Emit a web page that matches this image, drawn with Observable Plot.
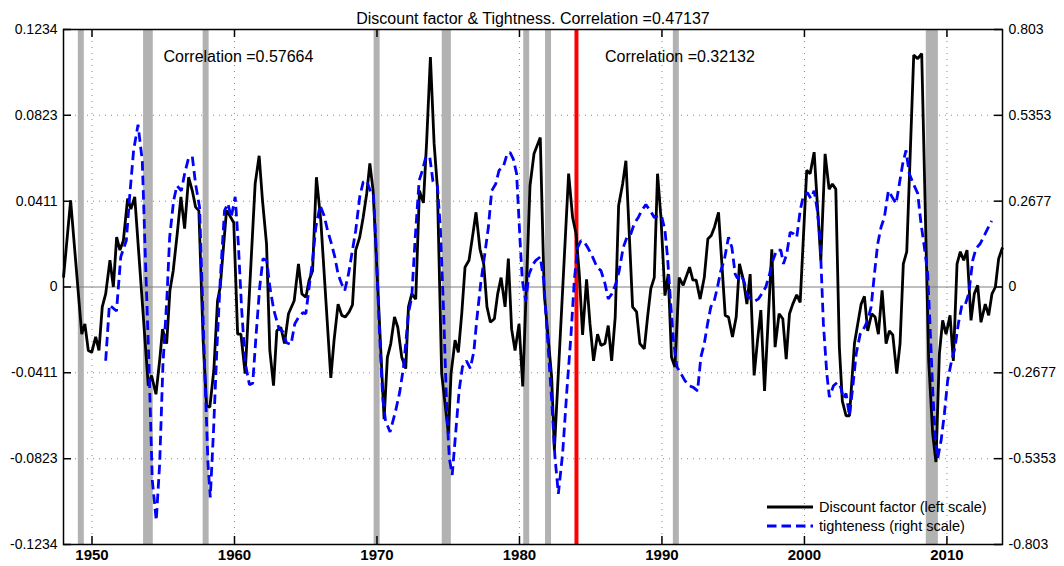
<!DOCTYPE html>
<html>
<head>
<meta charset="utf-8">
<script src="https://cdn.jsdelivr.net/npm/d3@7"></script>
<script src="https://cdn.jsdelivr.net/npm/@observablehq/plot@0.6"></script>
<style>
  body { margin: 0; background: #fff; }
  #chart { position: relative; width: 1064px; height: 566px; font-family: "Liberation Sans", Arial, Helvetica, sans-serif; }
  #legend { position: absolute; left: 766px; top: 497.5px; font-size: 14.5px; color: #000; }
  #legend .row { display: flex; align-items: center; height: 18.7px; white-space: nowrap; }
  #legend svg { margin-right: 5px; }
</style>
</head>
<body>
<div id="chart"></div>
<script>
// Discount factor (left scale), quarterly
const dfYear = [
  1948.00,1948.50,1949.28,1949.50,1949.74,1949.98,1950.26,1950.49,1950.72,1950.96,
  1951.26,1951.50,1951.73,1951.96,1952.20,1952.50,1952.73,1953.00,1953.72,1953.95,
  1954.18,1954.49,1954.77,1954.95,1955.24,1955.47,1955.70,1955.98,1956.24,1956.50,
  1956.78,1957.04,1957.27,1957.50,1957.80,1958.04,1958.27,1958.55,1958.81,1959.00,
  1959.22,1959.44,1959.68,1959.95,1960.22,1960.45,1960.75,1961.45,1961.73,1961.97,
  1962.25,1962.48,1962.74,1962.97,1963.25,1963.51,1963.79,1964.19,1964.49,1964.73,
  1965.01,1965.24,1965.48,1965.75,1966.06,1966.76,1966.99,1967.27,1967.53,1967.77,
  1968.05,1968.28,1968.51,1968.79,1969.03,1969.28,1969.50,1969.73,1970.50,1970.73,
  1970.97,1971.23,1971.46,1971.74,1972.02,1972.21,1972.44,1972.72,1972.98,1973.26,
  1973.49,1973.75,1974.01,1974.24,1974.54,1974.83,1975.01,1975.20,1975.48,1975.71,
  1975.95,1976.18,1976.46,1976.70,1976.95,1977.23,1977.49,1977.72,1977.96,1978.24,
  1978.47,1978.71,1978.99,1979.22,1979.45,1979.69,1979.97,1980.23,1980.74,1981.02,
  1981.46,1981.74,1982.26,1982.45,1983.45,1983.73,1983.97,1984.20,1984.43,1984.71,
  1984.95,1985.20,1985.48,1985.72,1986.00,1986.23,1986.47,1986.72,1986.96,1987.24,
  1987.47,1987.94,1988.22,1988.45,1988.76,1988.99,1989.22,1989.46,1989.69,1989.93,
  1990.21,1990.44,1990.67,1990.91,1991.21,1991.49,1991.94,1992.17,1992.40,1992.68,
  1992.97,1993.22,1993.46,1993.69,1993.97,1994.44,1994.67,1994.95,1995.21,1995.44,
  1995.72,1995.96,1996.19,1996.47,1996.71,1996.94,1997.20,1997.71,1997.94,1998.22,
  1998.48,1998.72,1998.95,1999.18,1999.46,1999.70,2000.16,2000.40,2000.68,2001.15,
  2001.45,2001.73,2001.96,2002.20,2002.45,2002.66,2002.92,2003.16,2003.51,2003.74,
  2003.98,2004.21,2004.44,2004.72,2004.96,2005.19,2005.45,2005.73,2005.96,2006.20,
  2006.48,2006.71,2006.94,2007.18,2007.67,2007.95,2008.23,2008.72,2009.00,2009.23,
  2009.47,2009.70,2009.94,2010.22,2010.45,2010.71,2010.94,2011.18,2011.41,2011.69,
  2011.92,2012.16,2012.39,2012.69,2012.93,2013.16,2013.40,2013.63,2013.90
];
const dfValue = [
  0.0045, 0.0415,-0.0226,-0.0177,-0.0304,-0.0313,-0.0239,-0.0304,-0.0095,-0.0033,
  0.0128, 0.0000, 0.0239, 0.0177, 0.0222, 0.0424, 0.0374, 0.0432,-0.0255,-0.0473,
 -0.0424,-0.0514,-0.0337,-0.0202,-0.0271,-0.0016, 0.0078, 0.0255, 0.0432, 0.0280,
  0.0526, 0.0461, 0.0383, 0.0366,-0.0255,-0.0568,-0.0576,-0.0399,-0.0066, 0.0000,
  0.0185, 0.0366, 0.0341, 0.0308,-0.0226,-0.0226,-0.0415, 0.0494, 0.0629, 0.0411,
  0.0206,-0.0304,-0.0473,-0.0210,-0.0193,-0.0271,-0.0128,-0.0066, 0.0111,-0.0033,
 -0.0049, 0.0033, 0.0078, 0.0526, 0.0317,-0.0436,-0.0255,-0.0082,-0.0136,-0.0144,
 -0.0119,-0.0086, 0.0177, 0.0239, 0.0333, 0.0448, 0.0592, 0.0461,-0.0633,-0.0337,
 -0.0271,-0.0144,-0.0193,-0.0337,-0.0391,-0.0095,-0.0033,-0.0058, 0.0461, 0.0403,
  0.0703, 0.1102, 0.0687, 0.0477,-0.0415,-0.0592,-0.0703,-0.0415,-0.0255,-0.0313,
 -0.0128, 0.0095, 0.0128, 0.0239, 0.0358, 0.0181, 0.0111,-0.0095,-0.0169,-0.0152,
 -0.0033, 0.0045,-0.0095, 0.0136,-0.0202,-0.0304,-0.0177,-0.0477, 0.0485, 0.0638,
  0.0716,-0.0033,-0.0432,-0.0782, 0.0543, 0.0333, 0.0255, 0.0062,-0.0230, 0.0037,
 -0.0177,-0.0354,-0.0226,-0.0280,-0.0271,-0.0185,-0.0354,-0.0144, 0.0391, 0.0494,
  0.0605,-0.0095,-0.0119,-0.0271,-0.0296,-0.0144,-0.0008, 0.0045, 0.0543, 0.0333,
 -0.0041, 0.0062,-0.0337,-0.0383, 0.0045, 0.0008, 0.0095, 0.0033, 0.0033,-0.0058,
  0.0045, 0.0230, 0.0247, 0.0288, 0.0358,-0.0136,-0.0144,-0.0239,-0.0144, 0.0111,
  0.0033,-0.0082, 0.0062,-0.0424,-0.0255,-0.0111,-0.0498, 0.0181,-0.0288,-0.0128,
 -0.0152,-0.0346,-0.0128,-0.0082,-0.0037,-0.0074, 0.0559, 0.0543, 0.0646, 0.0128,
  0.0638, 0.0469, 0.0494, 0.0469,-0.0288,-0.0547,-0.0617,-0.0617,-0.0271,-0.0177,
 -0.0082,-0.0045,-0.0210,-0.0128,-0.0144,-0.0226,-0.0016,-0.0271,-0.0210,-0.0230,
 -0.0415,-0.0271, 0.0111, 0.0169, 0.1111, 0.1094, 0.1119,-0.0354,-0.0703,-0.0839,
 -0.0321,-0.0160,-0.0226,-0.0136,-0.0354, 0.0111, 0.0169, 0.0128, 0.0177,-0.0160,
 -0.0033, 0.0008,-0.0169,-0.0082,-0.0136,-0.0033, 0.0000, 0.0136, 0.0189
];

// Labour-market tightness (right scale)
const tightYear = [
  1950.96,1951.22,1951.72,1952.02,1952.41,1952.64,1952.92,1953.23,1953.53,1953.76,
  1954.00,1954.23,1954.51,1954.75,1954.98,1955.26,1955.45,1955.73,1955.96,1956.27,
  1956.50,1956.76,1957.04,1957.27,1957.55,1957.90,1958.14,1958.30,1958.53,1958.77,
  1959.00,1959.30,1959.54,1959.77,1960.05,1960.27,1960.50,1960.75,1961.05,1961.28,
  1961.52,1961.77,1962.00,1962.26,1962.50,1962.76,1963.13,1963.41,1963.65,1963.97,
  1964.23,1964.50,1964.80,1965.01,1965.24,1965.48,1965.71,1966.01,1966.29,1966.53,
  1966.81,1967.04,1967.27,1967.51,1967.74,1968.00,1968.28,1968.51,1968.79,1969.03,
  1969.28,1969.57,1969.75,1969.94,1970.17,1970.40,1970.60,1970.92,1971.30,1971.60,
  1971.85,1972.05,1972.20,1972.44,1972.67,1972.96,1973.19,1973.42,1973.70,1973.93,
  1974.24,1974.45,1974.68,1974.90,1975.08,1975.28,1975.50,1975.77,1976.00,1976.28,
  1976.55,1976.80,1977.00,1977.28,1977.54,1977.82,1978.05,1978.33,1978.57,1978.87,
  1979.10,1979.34,1979.57,1979.80,1980.04,1980.20,1980.44,1980.67,1980.97,1981.15,
  1981.46,1981.70,1981.98,1982.26,1982.49,1982.73,1983.03,1983.33,1983.62,1983.85,
  1984.08,1984.32,1984.60,1984.83,1985.13,1985.44,1985.72,1986.00,1986.23,1986.49,
  1986.77,1987.00,1987.28,1987.54,1987.82,1988.06,1988.34,1988.57,1988.87,1989.18,
  1989.46,1989.74,1989.97,1990.21,1990.39,1990.63,1990.81,1991.05,1991.33,1991.61,
  1991.91,1992.20,1992.50,1992.73,1992.97,1993.20,1993.43,1993.67,1993.90,1994.13,
  1994.37,1994.67,1994.91,1995.14,1995.30,1995.54,1995.77,1996.00,1996.24,1996.54,
  1996.78,1997.01,1997.29,1997.55,1997.78,1998.06,1998.34,1998.53,1998.76,1999.00,
  1999.23,1999.46,1999.70,1999.93,2000.21,2000.45,2000.68,2000.91,2001.10,2001.33,
  2001.57,2001.75,2002.04,2002.32,2002.55,2002.74,2002.92,2003.16,2003.39,2003.63,
  2003.91,2004.21,2004.44,2004.68,2004.91,2005.14,2005.38,2005.61,2005.89,2006.15,
  2006.43,2006.66,2006.90,2007.13,2007.36,2007.65,2007.95,2008.18,2008.42,2008.65,
  2008.81,2009.00,2009.19,2009.35,2009.59,2009.82,2010.05,2010.29,2010.57,2010.80,
  2011.06,2011.29,2011.53,2011.81,2012.04,2012.32,2012.56,2012.86,2013.14
];
const tightValue = [
 -0.230,-0.056,-0.075, 0.094, 0.145, 0.281, 0.426, 0.506, 0.393, 0.072,
 -0.241,-0.602,-0.728,-0.551,-0.241,-0.032, 0.155, 0.270, 0.316, 0.300,
  0.353, 0.399, 0.407, 0.321, 0.249,-0.241,-0.551,-0.656,-0.447,-0.187,
  0.021, 0.238, 0.260, 0.217, 0.281, 0.134,-0.067,-0.236,-0.305,-0.300,
 -0.147, 0.000, 0.088, 0.083,-0.005,-0.072,-0.131,-0.139,-0.174,-0.179,
 -0.115,-0.094,-0.080,-0.083, 0.000, 0.083, 0.187, 0.254, 0.222, 0.177,
  0.134, 0.094, 0.040, 0.011,-0.011, 0.040, 0.115, 0.177, 0.281, 0.327,
  0.332, 0.294, 0.292, 0.123,-0.137,-0.343,-0.418,-0.452,-0.388,-0.327,
 -0.254,-0.161,-0.083,-0.032, 0.145, 0.332, 0.364, 0.404, 0.407, 0.329,
  0.316, 0.182,-0.080,-0.388,-0.535,-0.586,-0.468,-0.321,-0.249,-0.230,
 -0.254,-0.201,-0.104, 0.011, 0.094, 0.187, 0.300, 0.321, 0.364, 0.375,
  0.410, 0.420, 0.399, 0.353, 0.145, 0.021,-0.043, 0.040, 0.072, 0.083,
  0.094, 0.021,-0.166,-0.353,-0.530,-0.645,-0.519,-0.321,-0.147, 0.021,
  0.123, 0.145, 0.137, 0.120, 0.094, 0.062, 0.051, 0.011,-0.037,-0.021,
  0.011, 0.051, 0.123, 0.155, 0.166, 0.198, 0.217, 0.238, 0.257, 0.238,
  0.217, 0.222, 0.222, 0.177, 0.094,-0.062,-0.166,-0.249,-0.270,-0.292,
 -0.308,-0.313,-0.324,-0.219,-0.177,-0.115,-0.062,-0.043, 0.000, 0.051,
  0.083, 0.155, 0.123, 0.040, 0.027, 0.040, 0.016,-0.027,-0.037,-0.043,
 -0.037,-0.021, 0.000, 0.040, 0.083, 0.115, 0.115, 0.072, 0.104, 0.171,
  0.166, 0.155, 0.238, 0.286, 0.294, 0.276, 0.300, 0.238, 0.145,-0.115,
 -0.270,-0.343,-0.308,-0.297,-0.313,-0.348,-0.332,-0.402,-0.313,-0.209,
 -0.147,-0.126,-0.104,-0.062, 0.040, 0.134, 0.187, 0.217, 0.300, 0.281,
  0.260, 0.321, 0.385, 0.426, 0.353, 0.321, 0.292, 0.198, 0.123, 0.040,
 -0.115,-0.321,-0.479,-0.535,-0.479,-0.396,-0.292,-0.238,-0.187,-0.115,
 -0.054,-0.054,-0.021, 0.083, 0.120, 0.134, 0.155, 0.182, 0.206
];

// Recession periods (shaded)
const recessionStart = [1949.04, 1953.62, 1957.80, 1969.80, 1974.58, 1980.30, 1981.83, 1990.80, 2008.55];
const recessionEnd   = [1949.46, 1954.30, 1958.22, 1970.22, 1975.22, 1980.72, 1982.25, 1991.22, 2009.40];

// Sample split
const splitYear = 1984;

// Axes
const xDomain = [1948, 2013.9];
const leftLimit = 0.1234;
const rightLimit = 0.803;
const leftTicks = [-0.1234, -0.0823, -0.0411, 0, 0.0411, 0.0823, 0.1234];
const leftTickLabels = ["-0.1234", "-0.0823", "-0.0411", "0", "0.0411", "0.0823", "0.1234"];
const rightTicks = [-0.803, -0.5353, -0.2677, 0, 0.2677, 0.5353, 0.803];
const rightTickLabels = ["-0.803", "-0.5353", "-0.2677", "0", "0.2677", "0.5353", "0.803"];
const yearTicks = [1950, 1960, 1970, 1980, 1990, 2000, 2010];
const gridLines = [-0.0823, -0.0411, 0.0411, 0.0823];

const titleText = "Discount factor & Tightness. Correlation =0.47137";
const subCorrelations = [
  {year: 1955.02, label: "Correlation =0.57664"},
  {year: 1986.0, label: "Correlation =0.32132"}
];

// Right-scale values are drawn on the left scale
const ratio = leftLimit / rightLimit;

const discount = dfYear.map((y, i) => ({year: y, value: dfValue[i]}));
const tightness = tightYear.map((y, i) => ({year: y, value: tightValue[i]}));
const recessions = recessionStart.map((s, i) => ({start: s, end: recessionEnd[i]}));

const width = 1064, height = 566;
const margin = {top: 29, right: 62, bottom: 22, left: 63};
const frameW = width - margin.left - margin.right;
const frameH = height - margin.top - margin.bottom;
const tickLen = 8;
const gridStyle = {stroke: "#8a8a8a", strokeWidth: 1, strokeDasharray: "1,5"};

const chart = Plot.plot({
  width, height,
  marginTop: margin.top, marginRight: margin.right, marginBottom: margin.bottom, marginLeft: margin.left,
  style: {fontFamily: "'Liberation Sans', Arial, Helvetica, sans-serif", background: "#fff", color: "#000"},
  x: {domain: xDomain, axis: null},
  y: {domain: [-leftLimit, leftLimit], axis: null},
  marks: [
    // dotted grid
    Plot.ruleY(gridLines, {y: d => d, ...gridStyle}),
    Plot.ruleX(yearTicks, {x: d => d, ...gridStyle}),
    // recessions
    Plot.rect(recessions, {x1: "start", x2: "end", fill: "#b2b2b2"}),
    // zero line
    Plot.ruleY([0], {stroke: "#7f7f7f", strokeWidth: 1}),
    // sample split
    Plot.ruleX([splitYear], {stroke: "#ff0000", strokeWidth: 4}),
    // series
    Plot.line(discount, {x: "year", y: "value", stroke: "#000", strokeWidth: 2.8, strokeLinejoin: "miter", strokeLinecap: "butt"}),
    Plot.line(tightness, {x: "year", y: d => d.value * ratio, stroke: "#0000ff", strokeWidth: 2.8, strokeDasharray: "9.5,5", strokeLinejoin: "miter", strokeLinecap: "butt"}),
    // box
    Plot.frame({stroke: "#000", strokeWidth: 1.5}),
    // inward ticks
    Plot.tickY(leftTicks, {y: d => d, insetRight: frameW - tickLen, stroke: "#000", strokeWidth: 1.5}),
    Plot.tickY(rightTicks, {y: d => d * ratio, insetLeft: frameW - tickLen, stroke: "#000", strokeWidth: 1.5}),
    Plot.tickX(yearTicks, {x: d => d, insetBottom: frameH - tickLen, stroke: "#000", strokeWidth: 1.5}),
    Plot.tickX(yearTicks, {x: d => d, insetTop: frameH - tickLen, stroke: "#000", strokeWidth: 1.5}),
    // tick labels
    Plot.text(leftTicks, {y: d => d, text: (d, i) => leftTickLabels[i], frameAnchor: "left", dx: -6, textAnchor: "end", fontSize: 14}),
    Plot.text(rightTicks, {y: d => d * ratio, text: (d, i) => rightTickLabels[i], frameAnchor: "right", dx: 6, textAnchor: "start", fontSize: 14}),
    Plot.text(yearTicks, {x: d => d, text: d => String(d), frameAnchor: "bottom", dy: 15, fontSize: 15, fontWeight: "bold"}),
    // title and sub-sample correlations
    Plot.text([titleText], {frameAnchor: "top", dy: -17, fontSize: 16}),
    Plot.text(subCorrelations, {x: "year", text: "label", frameAnchor: "top", dy: 21, textAnchor: "start", fontSize: 16})
  ]
});

const host = document.getElementById("chart");
host.appendChild(chart);

// legend
const legend = document.createElement("div");
legend.id = "legend";
legend.innerHTML = `
  <div class="row"><svg width="48" height="10"><line x1="1" y1="5" x2="47" y2="5" stroke="#000" stroke-width="2.8"/></svg><span>Discount factor (left scale)</span></div>
  <div class="row"><svg width="48" height="10"><line x1="1" y1="5" x2="47" y2="5" stroke="#0000ff" stroke-width="2.8" stroke-dasharray="9.5,5"/></svg><span>tighteness (right scale)</span></div>`;
host.appendChild(legend);
</script>
</body>
</html>
